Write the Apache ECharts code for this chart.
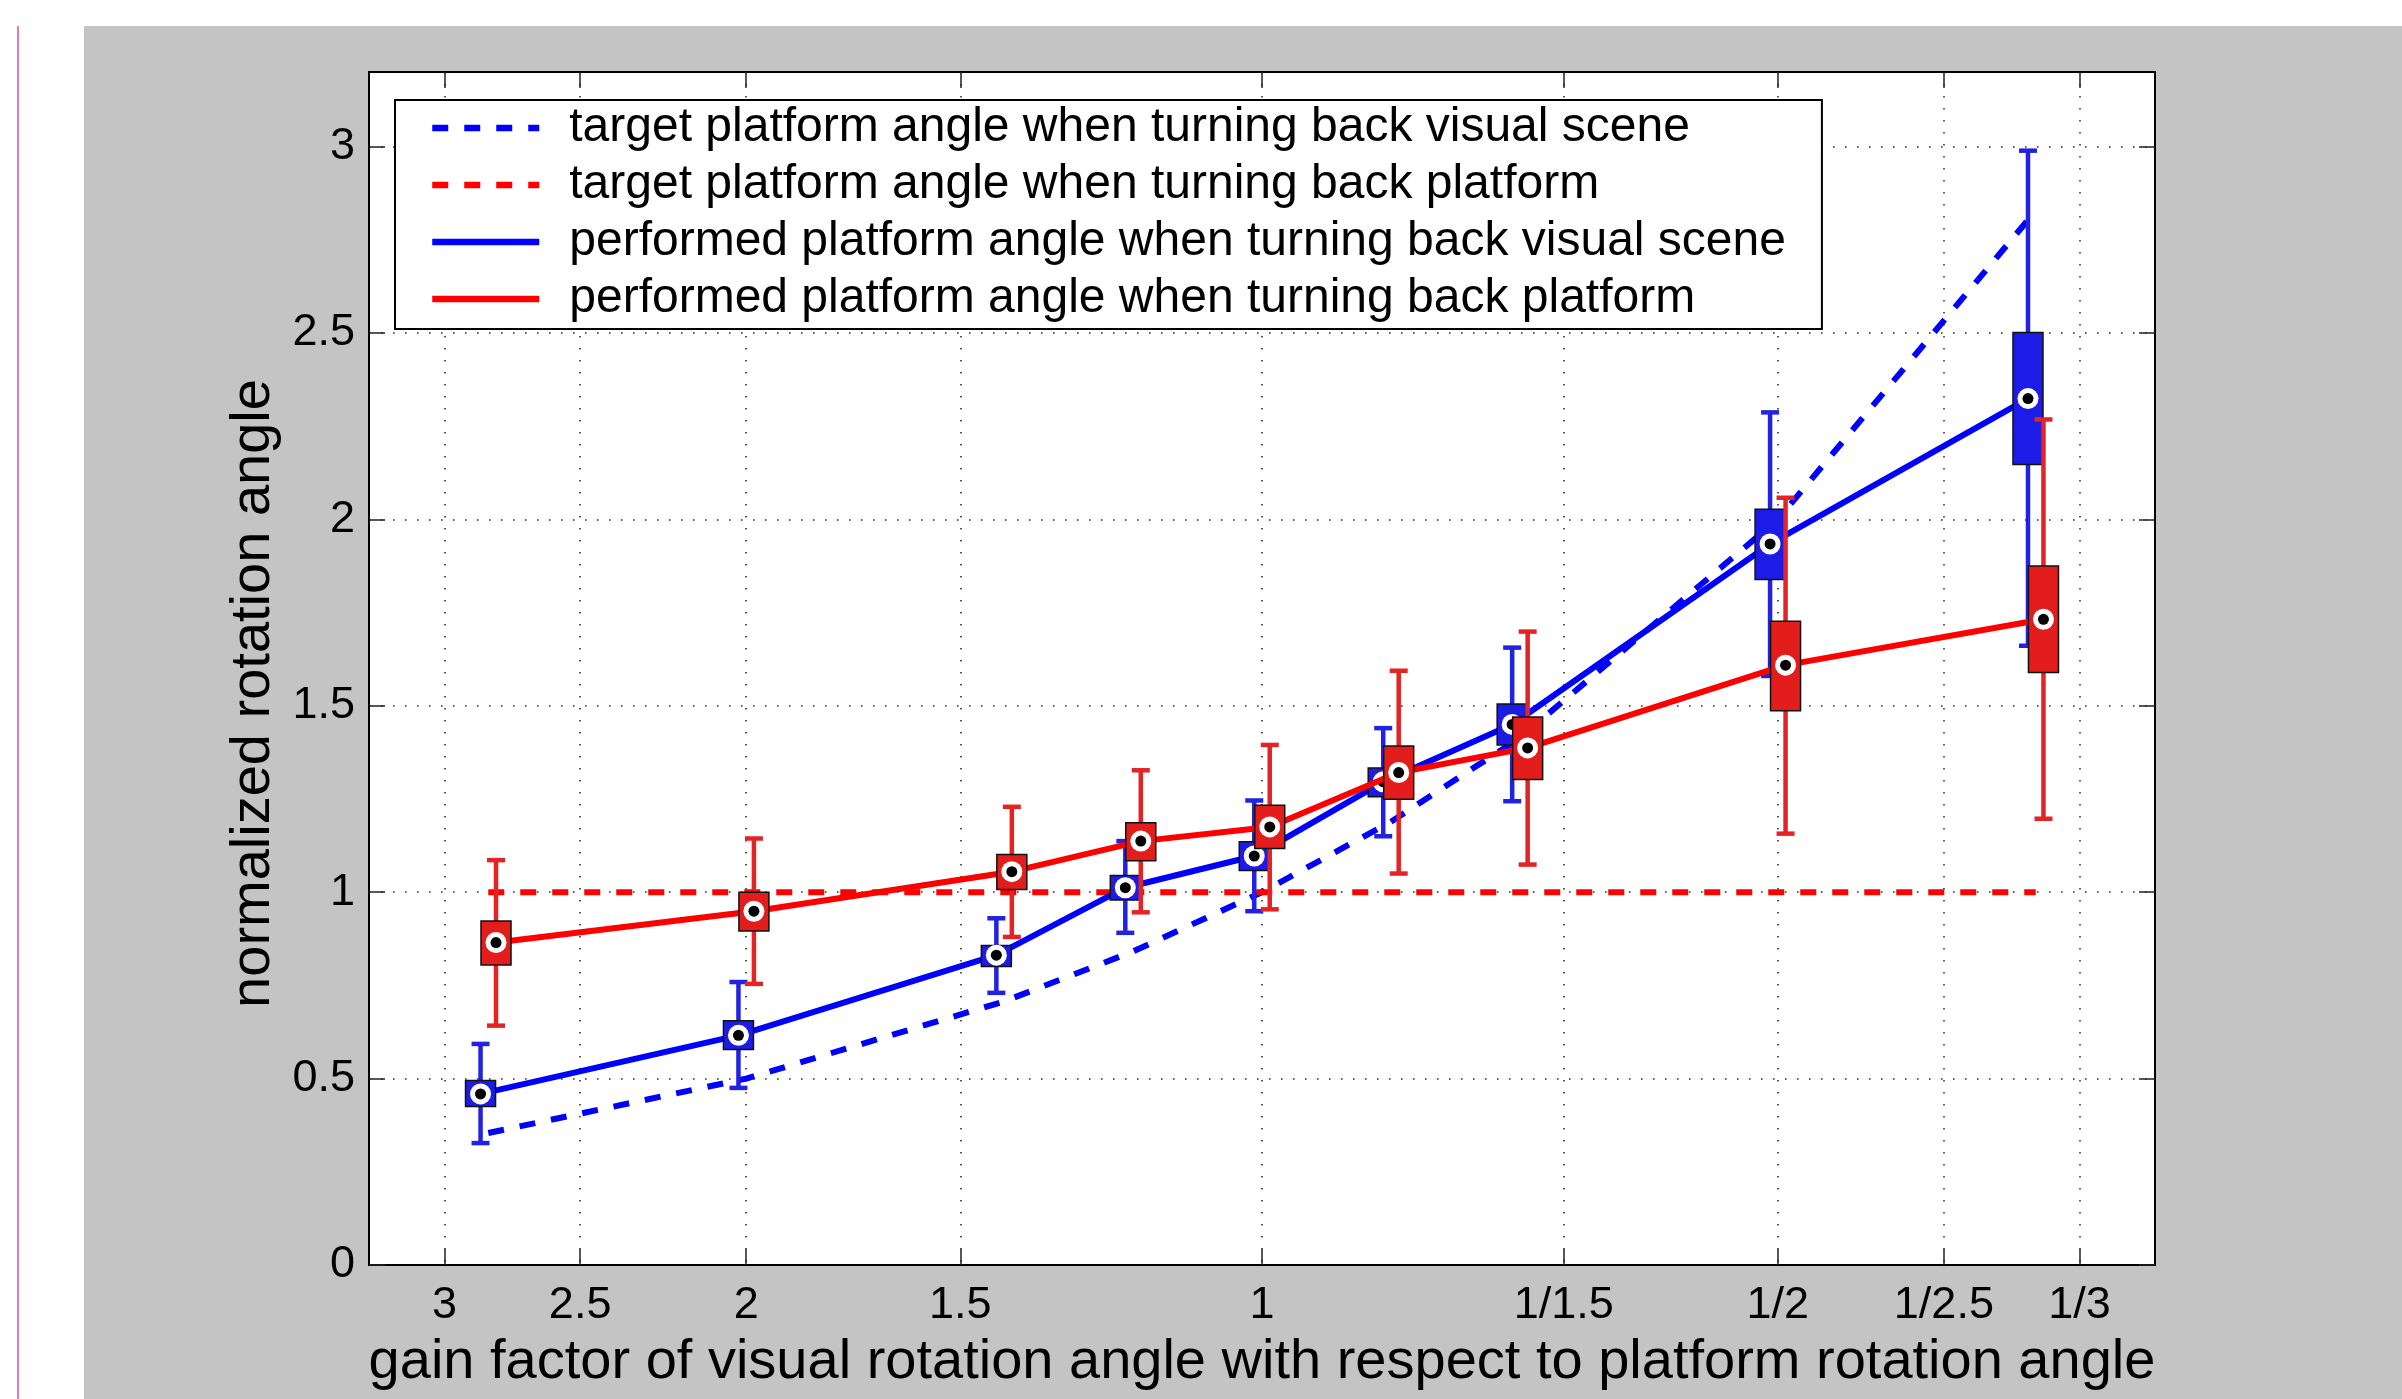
<!DOCTYPE html>
<html>
<head>
<meta charset="utf-8">
<script src="https://cdn.jsdelivr.net/npm/echarts@6/dist/echarts.min.js"></script>
<style>
  html, body { margin: 0; padding: 0; background: #fff; }
  #bg { position: absolute; left: 84px; top: 26px; width: 2318px; height: 1373px; background: #c4c4c4; }
  #edge { position: absolute; left: 17px; top: 26px; width: 2px; height: 1373px; background: #d77bc8; }
  #main { position: absolute; left: 0; top: 0; width: 2402px; height: 1399px; }
</style>
</head>
<body>
<div id="bg"></div>
<div id="edge"></div>
<div id="main"></div>
<script>
// x position = log2(1 / gain), gains are 2^1.5 ... 2^-1.5
const xPos = [-1.5, -1, -0.5, -0.25, 0, 0.25, 0.5, 1, 1.5]

const targetVisual = [0.354, 0.5, 0.707, 0.841, 1, 1.189, 1.414, 2, 2.828]
const targetPlatform = [1, 1, 1, 1, 1, 1, 1, 1, 1]

// visual scene turned back (blue)
const blueLow = [0.327, 0.475, 0.730, 0.891, 0.949, 1.150, 1.244, 1.580, 1.661]
const blueQ1 = [0.425, 0.578, 0.801, 0.979, 1.058, 1.256, 1.395, 1.839, 2.147]
const blueMed = [0.459, 0.616, 0.831, 1.012, 1.097, 1.296, 1.450, 1.934, 2.324]
const blueQ3 = [0.495, 0.655, 0.857, 1.045, 1.135, 1.333, 1.505, 2.027, 2.501]
const blueHigh = [0.593, 0.759, 0.930, 1.137, 1.246, 1.440, 1.656, 2.287, 2.989]

// platform turned back (red)
const redLow = [0.642, 0.754, 0.880, 0.946, 0.954, 1.050, 1.074, 1.157, 1.197]
const redQ1 = [0.805, 0.896, 1.007, 1.084, 1.117, 1.249, 1.302, 1.487, 1.589]
const redMed = [0.865, 0.949, 1.055, 1.137, 1.175, 1.321, 1.387, 1.609, 1.732]
const redQ3 = [0.923, 1.000, 1.101, 1.186, 1.233, 1.392, 1.470, 1.727, 1.875]
const redHigh = [1.086, 1.144, 1.229, 1.327, 1.395, 1.594, 1.699, 2.058, 2.268]

const tickGains = [3, 2.5, 2, 1.5, 1, 1 / 1.5, 1 / 2, 1 / 2.5, 1 / 3]
const tickLabels = ['3', '2.5', '2', '1.5', '1', '1/1.5', '1/2', '1/2.5', '1/3']
const yTicks = [0, 0.5, 1, 1.5, 2, 2.5, 3]

const names = [
  'target platform angle when turning back visual scene',
  'target platform angle when turning back platform',
  'performed platform angle when turning back visual scene',
  'performed platform angle when turning back platform'
]

const FONT = 'Liberation Sans'
const xLimit = 1.2 / Math.LN2
const shift = 0.015 // boxes of the two conditions sit side by side
const tickPos = tickGains.map(g => -Math.log2(g))

const pairs = (xs, ys, dx) => xs.map((x, i) => [x + (dx || 0), ys[i]])
const boxData = (lo, q1, md, q3, hi) => xPos.map((x, i) => [x, lo[i], q1[i], md[i], q3[i], hi[i]])

function boxRenderer(dx, fill, whisker) {
  return function (params, api) {
    const x = api.value(0) + dx
    const lo = api.coord([x, api.value(1)])
    const q1 = api.coord([x, api.value(2)])
    const md = api.coord([x, api.value(3)])
    const q3 = api.coord([x, api.value(4)])
    const hi = api.coord([x, api.value(5)])
    const cx = md[0]
    const halfBox = 15
    const halfCap = 9
    const wStyle = { stroke: whisker, lineWidth: 4.5 }
    return {
      type: 'group',
      children: [
        { type: 'line', shape: { x1: cx, y1: lo[1], x2: cx, y2: hi[1] }, style: wStyle },
        { type: 'line', shape: { x1: cx - halfCap, y1: lo[1], x2: cx + halfCap, y2: lo[1] }, style: wStyle },
        { type: 'line', shape: { x1: cx - halfCap, y1: hi[1], x2: cx + halfCap, y2: hi[1] }, style: wStyle },
        {
          type: 'rect',
          shape: { x: cx - halfBox, y: q3[1], width: halfBox * 2, height: q1[1] - q3[1] },
          style: { fill: fill, stroke: '#111', lineWidth: 1.5 }
        },
        { type: 'circle', shape: { cx: cx, cy: md[1], r: 10.5 }, style: { fill: '#fff' } },
        { type: 'circle', shape: { cx: cx, cy: md[1], r: 5.5 }, style: { fill: '#000' } }
      ]
    }
  }
}

const chart = echarts.init(document.getElementById('main'), null, { renderer: 'canvas' })

const lineBase = { type: 'line', symbol: 'none', showSymbol: false, silent: true, animation: false }
const frameLine = { onZero: false, lineStyle: { color: '#000', width: 2 } }
const gridDots = { show: true, lineStyle: { color: '#333', width: 1.6, type: [1.6, 10.4] } }

const option = {
  animation: false,
  textStyle: { fontFamily: FONT },
  grid: {
    left: 369, right: 247, top: 72, bottom: 134,
    show: true, backgroundColor: '#fff', borderColor: '#000', borderWidth: 2
  },
  legend: {
    data: names,
    orient: 'vertical',
    left: 395,
    top: 100,
    padding: [2, 36, 4, 34],
    itemWidth: 107,
    itemHeight: 20,
    itemGap: 5,
    backgroundColor: '#fff',
    borderColor: '#000',
    borderWidth: 2,
    selectedMode: false,
    itemStyle: { opacity: 0 },
    lineStyle: { width: 6.5 },
    textStyle: { fontSize: 48, color: '#000', fontFamily: FONT, padding: [0, 0, 0, 25], lineHeight: 52 }
  },
  xAxis: [{
    type: 'value',
    min: -xLimit,
    max: xLimit,
    name: 'gain factor of visual rotation angle with respect to platform rotation angle',
    nameLocation: 'middle',
    nameGap: 70,
    nameTextStyle: { fontSize: 56, color: '#000', fontFamily: FONT },
    axisLine: frameLine,
    axisTick: { inside: true, length: 16, customValues: tickPos, lineStyle: { color: '#222', width: 1.5 } },
    axisLabel: {
      customValues: tickPos,
      margin: 18,
      fontSize: 45,
      color: '#000',
      formatter: v => tickLabels[tickPos.findIndex(p => Math.abs(p - v) < 1e-6)]
    },
    splitLine: gridDots
  }, {
    type: 'value',
    position: 'top',
    min: -xLimit,
    max: xLimit,
    axisLine: frameLine,
    axisTick: { inside: true, length: 16, customValues: tickPos, lineStyle: { color: '#222', width: 1.5 } },
    axisLabel: { show: false },
    splitLine: { show: false }
  }],
  yAxis: [{
    type: 'value',
    min: 0,
    max: 3.2,
    name: 'normalized rotation angle',
    nameLocation: 'middle',
    nameGap: 82,
    nameTextStyle: { fontSize: 56, color: '#000', fontFamily: FONT, padding: [0, 50, 0, 0] },
    axisLine: frameLine,
    axisTick: { inside: true, length: 16, customValues: yTicks, lineStyle: { color: '#222', width: 1.5 } },
    axisLabel: { customValues: yTicks, margin: 14, fontSize: 45, color: '#000' },
    splitLine: gridDots
  }, {
    type: 'value',
    position: 'right',
    min: 0,
    max: 3.2,
    axisLine: frameLine,
    axisTick: { inside: true, length: 16, customValues: yTicks, lineStyle: { color: '#222', width: 1.5 } },
    axisLabel: { show: false },
    splitLine: { show: false }
  }],
  series: [
    {
      ...lineBase,
      name: names[0],
      data: pairs(xPos, targetVisual),
      lineStyle: { color: '#0000ff', width: 6, type: [16, 16] },
      itemStyle: { color: '#0000ff' },
      z: 3
    },
    {
      ...lineBase,
      name: names[1],
      data: pairs(xPos, targetPlatform),
      lineStyle: { color: '#ff0000', width: 6, type: [16, 16] },
      itemStyle: { color: '#ff0000' },
      z: 3
    },
    {
      ...lineBase,
      name: names[2],
      data: pairs(xPos, blueMed, -shift),
      lineStyle: { color: '#0000ff', width: 6 },
      itemStyle: { color: '#0000ff' },
      z: 4
    },
    {
      type: 'custom',
      name: 'visual scene box',
      renderItem: boxRenderer(-shift, '#1c1ce6', '#2222e2'),
      data: boxData(blueLow, blueQ1, blueMed, blueQ3, blueHigh),
      encode: { x: 0, y: [1, 5] },
      silent: true,
      z: 5
    },
    {
      ...lineBase,
      name: names[3],
      data: pairs(xPos, redMed, shift),
      lineStyle: { color: '#ff0000', width: 6 },
      itemStyle: { color: '#ff0000' },
      z: 6
    },
    {
      type: 'custom',
      name: 'platform box',
      renderItem: boxRenderer(shift, '#e31c1c', '#e42424'),
      data: boxData(redLow, redQ1, redMed, redQ3, redHigh),
      encode: { x: 0, y: [1, 5] },
      silent: true,
      z: 7
    }
  ]
}

chart.setOption(option)
</script>
</body>
</html>
